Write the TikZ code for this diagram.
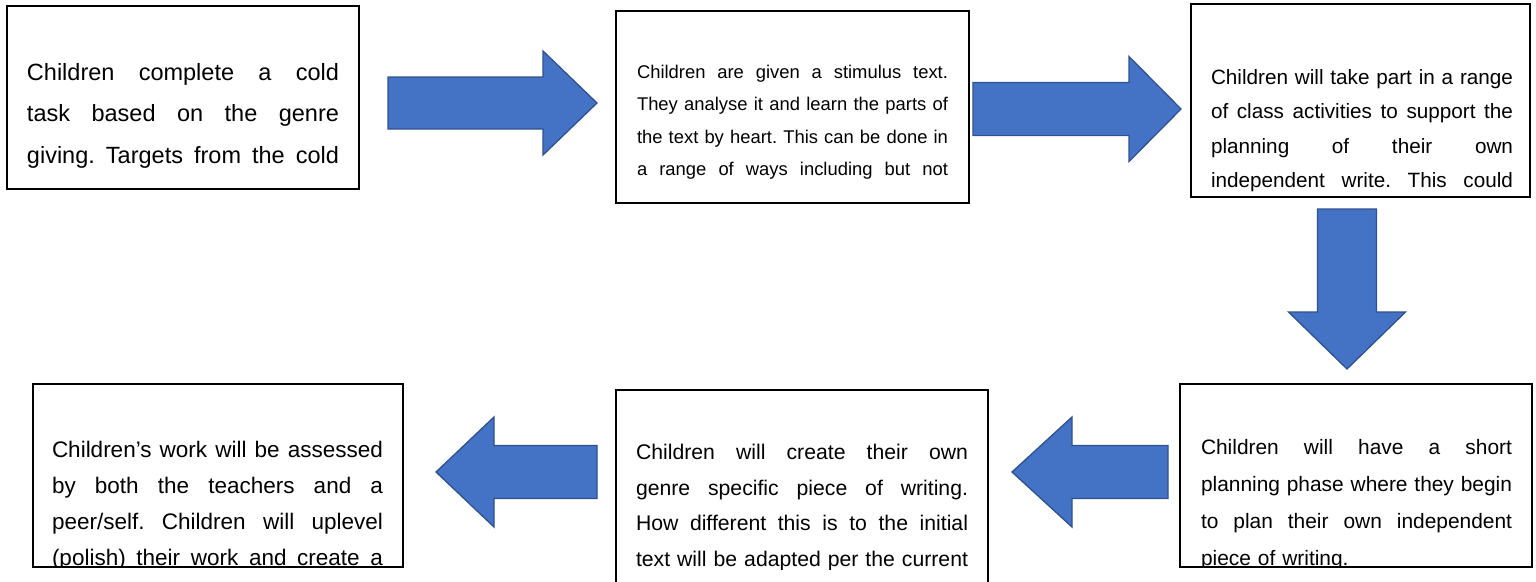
\documentclass[tikz,border=0pt]{standalone}
\usepackage{fontspec}
\setmainfont{Liberation Sans}
\frenchspacing
\definecolor{abfill}{HTML}{4472C4}
\definecolor{abdraw}{HTML}{2F528F}
\newlength\lw
\tikzset{
  boxframe/.style={draw=black, line width=1.4pt, inner sep=0pt, outer sep=0pt, anchor=north west},
  blockarrow/.style={fill=abfill, draw=abdraw, line width=1.3pt, line join=miter},
  bodytext/.style={anchor=north west, inner sep=0pt, outer sep=0pt, align=left,
    text width=#1, execute at begin node={\global\lw=#1\relax}},
}
\newcommand\jl[1]{\leavevmode\hbox to\lw{\spaceskip=0.25em plus 1fil minus 0.05em\relax #1}}
\begin{document}
\begin{tikzpicture}[x=1pt,y=-1pt]
\useasboundingbox (0,0) rectangle (1536,581);
\clip (0,0) rectangle (1536,581);

% texts (clipped to the inside of their boxes)
\begin{scope}
\clip (8,7) rectangle (358,188);
\node[bodytext=312pt, font=\fontsize{23.5}{41.5}\selectfont] (t1) at (27,63.3) {%
\jl{Children complete a cold}\\
\jl{task based on the genre}\\
\jl{giving. Targets from the cold}};
\end{scope}

\begin{scope}
\clip (617,12) rectangle (968,202);
\node[bodytext=311pt, font=\fontsize{18.4}{32.3}\selectfont] (t2) at (637,65.2) {%
\jl{Children are given a stimulus text.}\\
\jl{They analyse it and learn the parts of}\\
\jl{the text by heart. This can be done in}\\
\jl{a range of ways including but not}};
\end{scope}

\begin{scope}
\clip (1192,5) rectangle (1529,196);
\node[bodytext=302pt, font=\fontsize{20.7}{34.3}\selectfont] (t3) at (1211,69.4) {%
\jl{Children will take part in a range}\\
\jl{of class activities to support the}\\
\jl{planning of their own}\\
\jl{independent write. This could}};
\end{scope}

\begin{scope}
\clip (1181,385) rectangle (1531,566);
\node[bodytext=311pt, font=\fontsize{20.9}{37}\selectfont] (t4) at (1201,439.3) {%
\jl{Children will have a short}\\
\jl{planning phase where they begin}\\
\jl{to plan their own independent}\\
piece of writing.};
\end{scope}

\begin{scope}
\clip (617,391) rectangle (987,569);
\node[bodytext=332pt, font=\fontsize{21.2}{35.7}\selectfont] (t5) at (636,444.2) {%
\jl{Children will create their own}\\
\jl{genre specific piece of writing.}\\
\jl{How different this is to the initial}\\
\jl{text will be adapted per the current}};
\end{scope}

\begin{scope}
\clip (34,385) rectangle (402,566);
\node[bodytext=331pt, font=\fontsize{22.5}{36.3}\selectfont] (t6) at (52,440.7) {%
\jl{Children’s work will be assessed}\\
\jl{by both the teachers and a}\\
\jl{peer/self. Children will uplevel}\\
\jl{(polish) their work and create a}};
\end{scope}

% box frames
\node[boxframe, minimum width=352pt, minimum height=183pt] (b1) at (7,6) {};
\node[boxframe, minimum width=353pt, minimum height=192pt] (b2) at (616,11) {};
\node[boxframe, minimum width=339pt, minimum height=193pt] (b3) at (1191,4) {};
\node[boxframe, minimum width=352pt, minimum height=183pt] (b4) at (1180,384) {};
\node[boxframe, minimum width=372pt, minimum height=230pt] (b5) at (616,390) {};
\node[boxframe, minimum width=370pt, minimum height=183pt] (b6) at (33,384) {};

% block arrows
\draw[blockarrow] (388,77) -- (543,77) -- (543,51) -- (597,103) -- (543,155) -- (543,129) -- (388,129) -- cycle;
\draw[blockarrow] (973,82.5) -- (1129,82.5) -- (1129,56.5) -- (1181,109) -- (1129,161.5) -- (1129,135.5) -- (973,135.5) -- cycle;
\draw[blockarrow] (1317.5,209) -- (1376.5,209) -- (1376.5,312) -- (1405.5,312) -- (1347,369) -- (1288.5,312) -- (1317.5,312) -- cycle;
\draw[blockarrow] (1168,445.5) -- (1072,445.5) -- (1072,417) -- (1012,472) -- (1072,527) -- (1072,498.5) -- (1168,498.5) -- cycle;
\draw[blockarrow] (597,445.5) -- (494,445.5) -- (494,417) -- (436,472) -- (494,527) -- (494,498.5) -- (597,498.5) -- cycle;
\end{tikzpicture}
\end{document}
